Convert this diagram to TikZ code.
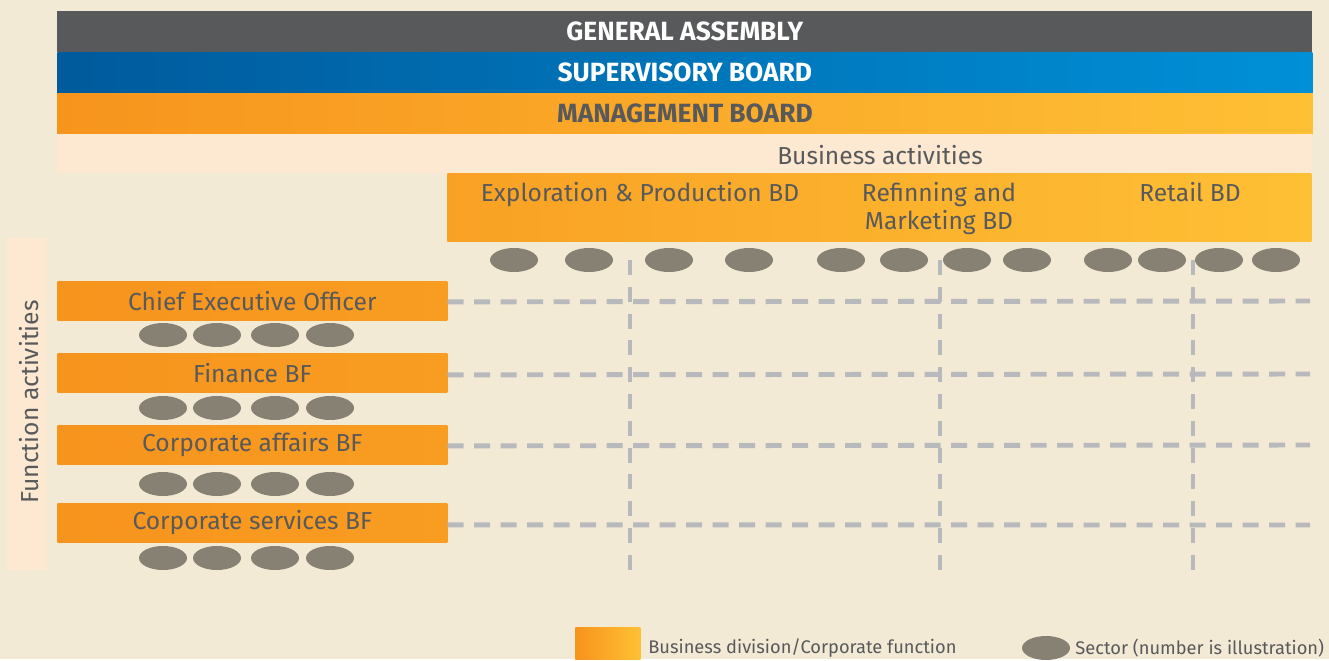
\documentclass[tikz,border=0pt]{standalone}
\usepackage{fontspec}
\setmainfont{Fira Sans}
\usetikzlibrary{positioning,shapes.geometric}

\definecolor{bgbeige}{HTML}{F3EAD5}
\definecolor{gagrey}{HTML}{58595B}
\definecolor{blueleft}{HTML}{005A9C}
\definecolor{blueright}{HTML}{0090D7}
\definecolor{orangeleft}{HTML}{F7941D}
\definecolor{orangeright}{HTML}{FEC035}
\definecolor{peach}{HTML}{FDE8D1}
\definecolor{textgrey}{HTML}{58595B}
\definecolor{sectorgrey}{HTML}{878174}
\definecolor{dashgrey}{HTML}{B8B9BC}

\begin{document}
\begin{tikzpicture}[x=0.02cm,y=-0.02cm]
\tikzstyle{every node}+=[inner sep=0pt, text=textgrey, font=\fontsize{14}{16}\selectfont]
\tikzstyle{bar}=[rectangle, anchor=north west, minimum width=1255*0.02cm, minimum height=41*0.02cm, font=\fontsize{15}{17}\selectfont\bfseries]
\tikzstyle{funcbox}=[rectangle, anchor=north west, minimum width=390*0.02cm, minimum height=39*0.02cm, left color=orangeleft, right color=orangeleft!80!orangeright]
\tikzstyle{sector}=[ellipse, fill=sectorgrey, minimum width=48*0.02cm, minimum height=24*0.02cm]
\tikzstyle{grid}=[dashgrey, line width=2.8pt, dash pattern=on 0.32cm off 0.21cm]
\tikzstyle{legend}=[anchor=west, font=\fontsize{10.4}{12}\selectfont]

% background
\fill [bgbeige] (0,0) rectangle (1329,659);

% governance bars
\node [bar, fill=gagrey, text=white] (ga) at (57,11) {GENERAL ASSEMBLY};
\node [bar, left color=blueleft, right color=blueright, text=white] (sb) at (57,52) {SUPERVISORY BOARD};
\node [bar, left color=orangeleft, right color=orangeright] (mb) at (57,93) {MANAGEMENT BOARD};
\node [bar, fill=peach, minimum height=39*0.02cm] (ba) at (57,134) {};
\node (batext) at (880,155) {Business activities};

% business divisions
\node [rectangle, anchor=north west, minimum width=864*0.02cm, minimum height=68*0.02cm,
  left color=orangeleft!70!orangeright, right color=orangeright] (bd) at (447,173) {};
\node [anchor=north] (ep) at (640,182) {Exploration \& Production BD};
\node [anchor=north, align=center] (rm) at (939,182) {Refinning and\\Marketing BD};
\node [anchor=north] (retail) at (1190,182) {Retail BD};

% function activities
\node [rectangle, anchor=north west, fill=peach, minimum width=40*0.02cm, minimum height=332*0.02cm] (fa) at (7,238) {};
\node [rotate=90] (fatext) at (29,402) {Function activities};

\node [funcbox] (ceo) at (57,281) {Chief Executive Officer};
\node [funcbox] (fin) at (57,353) {Finance BF};
\node [funcbox] (caf) at (57,425) {Corporate affairs BF};
\node [funcbox] (cse) at (57,503) {Corporate services BF};

% grid lines
\coordinate (ceoend) at (1310,301);
\coordinate (finend) at (1310,374);
\coordinate (cafend) at (1310,445);
\coordinate (cseend) at (1310,525);
\draw [grid] (ceo.east) ++(0,1) -- (ceoend);
\draw [grid] (fin.east) ++(0,2) -- (finend);
\draw [grid] (caf.east) ++(0,1) -- (cafend);
\draw [grid] (cse.east) ++(0,2) -- (cseend);
\foreach \x/\n in {630/a,940/b,1193/c} {
  \coordinate (v\n top) at (\x,260);
  \coordinate (v\n bot) at (\x,570);
  \draw [grid, dash pattern=on 0.30cm off 0.236cm] (v\n top) -- (v\n bot);
}

% sectors
\foreach \x [count=\i] in {514,589,669,749,841,904,967,1027,1108,1162,1219,1276}
  \node [sector] (bs\i) at (\x,260) {};
\foreach \y/\n in {335/ceo,408/fin,484/caf,558/cse}
  \foreach \x [count=\i] in {163,217,275,330}
    \node [sector] (\n s\i) at (\x,\y) {};

% legend
\node [rectangle, anchor=north west, minimum width=65*0.02cm, minimum height=32*0.02cm,
  left color=orangeleft, right color=orangeright] (legbox) at (575,627) {};
\node [legend] (legboxtext) at (648,648) {Business division/Corporate function};
\node [sector] (legsector) at (1046,648) {};
\node [legend] (legsectortext) at (1075,648) {Sector (number is illustration)};
\end{tikzpicture}
\end{document}
